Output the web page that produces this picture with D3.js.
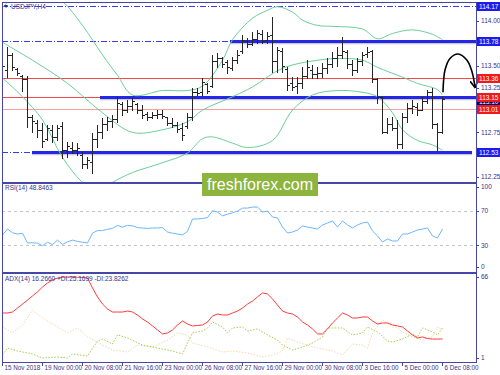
<!DOCTYPE html>
<html>
<head>
<meta charset="utf-8">
<script src="https://cdn.jsdelivr.net/npm/d3@7"></script>
<style>
body { margin: 0; background: #fff; }
text { font-family: "Liberation Sans", Arial, sans-serif; }
</style>
</head>
<body>
<div id="chart"></div>
<script>
//DATA--------------------
// USDJPY H4 bars, 15 Nov 16:00 -> 6 Dec 08:00
var openP = [113.40,113.45,113.62,113.46,113.38,113.35,112.92,112.86,112.78,112.68,
  112.78,112.70,112.82,112.55,112.58,112.55,112.50,112.40,112.42,112.68,
  112.75,112.85,112.88,112.90,113.07,113.00,113.05,113.07,113.00,112.96,
  112.92,112.94,112.96,112.92,112.86,112.83,112.80,112.82,112.92,113.20,
  113.20,113.29,113.27,113.55,113.58,113.54,113.47,113.56,113.66,113.78,
  113.74,113.80,113.85,113.79,113.84,113.55,113.66,113.46,113.30,113.27,
  113.30,113.38,113.45,113.40,113.42,113.47,113.52,113.58,113.62,113.65,
  113.52,113.45,113.55,113.63,113.66,113.35,113.15,112.75,112.85,112.80,
  112.62,112.92,113.02,113.03,113.00,113.10,113.20,112.84,112.75];
var highP = [113.54,113.71,113.64,113.47,113.39,113.38,112.95,112.89,112.86,112.83,
  112.83,112.83,112.87,112.64,112.64,112.63,112.53,112.47,112.74,112.83,
  112.91,112.92,112.95,113.15,113.09,113.11,113.14,113.08,113.06,112.98,
  112.98,113.00,113.00,112.92,112.91,112.87,112.86,112.97,113.25,113.25,
  113.36,113.30,113.62,113.64,113.60,113.56,113.60,113.67,113.84,113.81,
  113.88,113.90,113.90,113.88,114.04,113.71,113.70,113.48,113.37,113.37,
  113.48,113.56,113.51,113.48,113.53,113.58,113.65,113.71,113.82,113.67,
  113.56,113.58,113.65,113.71,113.67,113.36,113.15,112.91,112.92,112.89,
  112.97,113.08,113.11,113.08,113.15,113.23,113.25,112.86,113.15];
var lowP = [113.34,113.37,113.45,113.39,113.22,112.81,112.75,112.70,112.59,112.66,
  112.64,112.66,112.46,112.47,112.52,112.50,112.35,112.35,112.29,112.59,
  112.69,112.78,112.81,112.87,112.95,112.98,113.00,112.97,112.91,112.89,
  112.91,112.91,112.91,112.83,112.81,112.75,112.66,112.80,112.89,113.17,
  113.17,113.19,113.26,113.48,113.48,113.42,113.45,113.53,113.64,113.71,
  113.73,113.75,113.75,113.75,113.43,113.43,113.43,113.23,113.23,113.19,
  113.25,113.36,113.36,113.36,113.37,113.42,113.48,113.50,113.58,113.47,
  113.39,113.43,113.51,113.60,113.32,113.08,112.74,112.74,112.78,112.58,
  112.58,112.87,112.97,112.95,113.00,113.08,112.80,112.55,112.74];
var closeP = [113.50,113.62,113.48,113.42,113.35,112.92,112.88,112.78,112.65,112.80,
  112.70,112.80,112.55,112.60,112.55,112.58,112.40,112.44,112.68,112.75,
  112.85,112.88,112.90,113.08,113.00,113.05,113.10,113.00,112.95,112.92,
  112.95,112.96,112.93,112.86,112.83,112.79,112.72,112.92,113.20,113.19,
  113.32,113.22,113.55,113.58,113.52,113.48,113.56,113.62,113.79,113.74,
  113.80,113.86,113.78,113.83,113.55,113.67,113.50,113.28,113.26,113.30,
  113.38,113.48,113.40,113.42,113.47,113.52,113.58,113.62,113.66,113.52,
  113.45,113.55,113.62,113.65,113.35,113.15,112.75,112.85,112.80,112.62,
  112.92,113.02,113.05,113.00,113.10,113.20,112.85,112.75,113.13];

// Bollinger bands as [bar, price]
var bbUpper = [[0,114.15],[2,114.26],[6,114.37],[9,114.32],[12,114.22],[16,113.95],[20,113.62],
  [23,113.39],[26,113.17],[32,113.22],[37,113.22],[40,113.27],[44,113.56],[46,113.79],[50,114.03],
  [53,114.12],[55,114.16],[58,114.10],[60,114.01],[63,113.95],[66,113.94],[72,113.91],[75,113.80],
  [78,113.86],[82,113.90],[86,113.85],[88,113.79]];
var bbMiddle = [[0,113.76],[6,113.56],[13,113.30],[20,112.97],[26,112.75],[32,112.78],[37,112.87],
  [40,113.00],[46,113.15],[50,113.26],[56,113.47],[63,113.56],[68,113.58],[72,113.56],[75,113.48],
  [80,113.37],[83,113.30],[87,113.23],[88,113.17]];
var bbLower = [[0,113.36],[4,113.15],[8,112.89],[12,112.47],[16,112.19],[19,112.08],[22,112.19],
  [26,112.30],[32,112.41],[37,112.52],[40,112.68],[42,112.70],[46,112.63],[49,112.58],[54,112.66],
  [58,113.00],[62,113.17],[67,113.22],[72,113.20],[75,113.15],[78,112.97],[80,112.78],[83,112.66],
  [86,112.61],[88,112.55]];

var rsiVals = [42,48.8,44.5,43,44,32.7,33,32.5,29.5,33.5,
  31,36,31,34,36,34.5,33.5,32.7,44.2,47,
  47,48.5,49.5,53,51,53,52.5,50.5,50,49.5,
  50,50,50.5,45.4,44,43,42,46,60.4,60.4,
  61,62,70,68.5,64,66,67.5,69.6,73,73,
  74.2,74.2,68.5,69.6,62.7,61.5,51.1,44.2,45.4,47.7,
  52.3,51.1,50,48.8,53.5,55.8,58.1,51.1,58.1,53.5,
  50,53.5,55.8,56.9,46.5,40.8,33.8,37.3,35,35,
  43.1,43.1,45.4,47.7,48.8,50,40.8,38.5,48.85];

var adxVals = [37.1,37.1,37.9,41.1,44.3,47.5,50.8,54.0,58.0,61.2,
  63.6,65.2,65.8,66,66,65.8,65.6,65.2,57.2,50.0,
  44.3,40.3,37.9,37.9,37.9,38.7,37.9,35.5,32.3,29.9,
  26.7,23.5,20.3,21.1,23.5,27.5,30.7,28.3,26.7,27.1,
  27.5,29.9,34.7,36.3,35.5,35.5,37.1,38.7,41.1,44.3,
  46.7,50.0,53.2,52.4,48.4,43.5,38.7,37.1,36.3,33.9,
  29.9,27.5,24.3,20.3,20.3,24.3,29.1,33.1,37.1,35.5,
  33.1,33.1,33.9,33.9,30.7,28.3,29.1,29.1,27.5,26.7,
  25.9,22.7,19.5,17.1,17.9,16.6,16.2,16.2,16.27];

var plusDI = [[0,3.4],[1,9.0],[3,6.6],[6,4.2],[8,1.0],[11,1.8],[13,1.0],[14,4.2],[17,2.6],[19,14.6],
  [20,16.2],[22,12.2],[23,19.5],[25,17.1],[28,11.4],[30,9.8],[32,8.2],[34,6.6],[36,4.2],[37,13.0],
  [38,21.1],[40,22.7],[41,25.1],[42,29.9],[44,25.9],[45,21.1],[46,25.1],[48,25.9],[49,22.7],[51,24.3],
  [53,19.5],[55,15.4],[56,11.4],[58,7.4],[60,9.8],[62,13.0],[64,17.9],[65,25.1],[68,25.1],[70,19.5],
  [72,21.1],[73,25.9],[75,21.9],[77,14.6],[78,13.8],[80,16.2],[82,20.3],[83,17.9],[84,25.1],[86,21.9],
  [87,19.5],[88,25.17]];
var minusDI = [[0,25.9],[2,21.1],[4,27.5],[6,39.5],[8,33.1],[12,23.5],[13,21.1],[15,25.1],[17,17.9],
  [20,11.4],[22,7.4],[25,5.8],[27,11.4],[30,9.8],[33,15.4],[35,21.1],[37,19.5],[38,13.0],[41,9.8],
  [44,5.8],[46,6.6],[49,5.0],[52,1.8],[54,3.4],[56,6.6],[57,17.1],[59,13.8],[61,11.4],[63,9.0],
  [66,6.6],[68,3.4],[70,12.2],[72,11.4],[73,9.0],[74,21.1],[76,31.5],[78,25.9],[79,25.1],[80,21.9],
  [82,17.9],[84,15.4],[85,17.1],[86,17.9],[87,25.9],[88,23.83]];

var dateIdx = [0,8,16,24,32,40,48,56,64,72,80,88];
var dateLabels = ["15 Nov 2018","19 Nov 00:00","20 Nov 08:00","21 Nov 16:00","23 Nov 00:00",
  "26 Nov 08:00","27 Nov 16:00","29 Nov 00:00","30 Nov 08:00","3 Dec 16:00","5 Dec 00:00","6 Dec 08:00"];

// 113.00 sits under the 113.01 tag, so only its tick mark shows
var priceTicks = [114.00,113.75,113.50,113.25,113.00,112.75,112.50,112.25];
var priceTickShown = [true,true,true,true,false,true,true,true];
var rsiTicks = [100,70,30,0];
var rsiLevels = [70,30];
var adxTicks = [66,1];

// support / resistance levels and their tags
var levelPrices = [114.17,113.78,113.36,113.15,113.01,112.53];
var levelKinds = ["dash","dash","red","red","pink","dash"];
var levelThickFrom = [null,45.5,null,19.5,null,5.9];
var tagPrices = [114.17,113.78,113.36,113.10,113.15,113.01,112.53];
var tagColors = ["#1c1cf0","#1c1cf0","#f01818","#000070","#f01818","#f01818","#1c1cf0"];

// hand drawn arrow after last bar, [bar, price]
var arrowPts = [[88.1,113.20],[88.5,113.45],[89.5,113.58],[91.1,113.63],[92.9,113.56],[93.9,113.43],[94.5,113.26]];

//SET BOUNDARIES--------------------
var svgWidth = 500;
var svgHeight = 375;
var left = 2, right = 476;
var mainTop = 2, mainBottom = 182;
var rsiTop = 183, rsiBottom = 272;
var adxTop = 273, adxBottom = 362;
var navy = "#4646a6";
var textCol = "#34348c";

var svg = d3.select("#chart")
  .append("svg")
  .attr("width", svgWidth)
  .attr("height", svgHeight)
  .style("display", "block");

svg.append("rect").attr("width", svgWidth).attr("height", svgHeight).attr("fill", "#fff");

var x = d3.scaleLinear().domain([0, 88]).range([2.5, 442.5]);
var yMain = d3.scaleLinear().domain([112.194, 114.213]).range([mainBottom, mainTop]);
var yRsi = d3.scaleLinear().domain([0, 100]).range([271.3, 184.7]);
var yAdx = d3.scaleLinear().domain([1, 66]).range([358, 277]);

function px(v) { return Math.round(v) + 0.5; }

// clip paths
var defs = svg.append("defs");
[["clipMain", mainTop, mainBottom], ["clipRsi", rsiTop, rsiBottom], ["clipAdx", adxTop, adxBottom]].forEach(c => {
  defs.append("clipPath").attr("id", c[0])
    .append("rect").attr("x", left + 1).attr("y", c[1] + 1)
    .attr("width", right - left - 1).attr("height", c[2] - c[1] - 1);
});
defs.append("marker")
  .attr("id", "arrowHead")
  .attr("viewBox", "0 0 10 10")
  .attr("refX", 8).attr("refY", 5)
  .attr("markerWidth", 5).attr("markerHeight", 5)
  .attr("orient", "auto")
  .append("path")
  .attr("d", "M0,0 L9,5 L0,10")
  .attr("fill", "none")
  .attr("stroke", "#000")
  .attr("stroke-width", 2);

//MAIN PANEL--------------------
var mainG = svg.append("g").attr("clip-path", "url(#clipMain)");

// level lines
levelPrices.forEach((p, i) => {
  var yy = px(yMain(p));
  var kind = levelKinds[i];
  var thick = levelThickFrom[i];
  if (kind === "dash") {
    mainG.append("line")
      .attr("x1", left).attr("x2", thick === null ? right : x(thick))
      .attr("y1", yy).attr("y2", yy)
      .attr("stroke", "#3a3af0").attr("stroke-width", 1)
      .attr("stroke-dasharray", "6,2,1,2");
  } else {
    mainG.append("line")
      .attr("x1", left).attr("x2", thick === null ? right : x(thick))
      .attr("y1", yy).attr("y2", yy)
      .attr("stroke", kind === "red" ? "#f04848" : "#f7a0a0")
      .attr("stroke-width", 1);
  }
  if (thick !== null) {
    mainG.append("line")
      .attr("x1", x(thick)).attr("x2", i === 5 ? 472 : right)
      .attr("y1", yy + 2).attr("y2", yy + 2)
      .attr("stroke", "#c8c8d8").attr("stroke-width", 1.5);
    mainG.append("line")
      .attr("x1", x(thick)).attr("x2", i === 5 ? 472 : right)
      .attr("y1", yy).attr("y2", yy)
      .attr("stroke", "#2626e6").attr("stroke-width", 3);
  }
});

// bollinger bands
var bbLine = d3.line()
  .x(d => x(d[0]))
  .y(d => yMain(d[1]))
  .curve(d3.curveCatmullRom);
[bbUpper, bbMiddle, bbLower].forEach(band => {
  mainG.append("path")
    .attr("d", bbLine(band))
    .attr("fill", "none")
    .attr("stroke", "#6ccf98")
    .attr("stroke-width", 1);
});

// HLC bars
var bars = mainG.selectAll("g.bar")
  .data(d3.range(openP.length))
  .enter()
  .append("g")
  .attr("class", "bar")
  .attr("stroke", "#262626")
  .attr("stroke-width", 1);
bars.append("line")
  .attr("x1", i => x(i)).attr("x2", i => x(i))
  .attr("y1", i => Math.round(yMain(highP[i]))).attr("y2", i => Math.round(yMain(lowP[i])) + 1);
bars.append("line")
  .attr("x1", i => x(i) - 2.5).attr("x2", i => x(i))
  .attr("y1", i => px(yMain(openP[i]))).attr("y2", i => px(yMain(openP[i])));
bars.append("line")
  .attr("x1", i => x(i)).attr("x2", i => x(i) + 2.5)
  .attr("y1", i => px(yMain(closeP[i]))).attr("y2", i => px(yMain(closeP[i])));

// arrow
svg.append("path")
  .attr("d", d3.line().x(d => x(d[0])).y(d => yMain(d[1])).curve(d3.curveCatmullRom)(arrowPts))
  .attr("fill", "none")
  .attr("stroke", "#000")
  .attr("stroke-width", 1.6)
  .attr("marker-end", "url(#arrowHead)");

// title
svg.append("path")
  .attr("d", "M4,5 L8,5 L6,8 Z")
  .attr("fill", "#2a2a90");
svg.append("text")
  .attr("x", 11).attr("y", 9)
  .attr("font-size", 6.5)
  .attr("fill", textCol)
  .text("USDJPY,H4");

//RSI PANEL--------------------
var rsiG = svg.append("g").attr("clip-path", "url(#clipRsi)");
rsiLevels.forEach(l => {
  rsiG.append("line")
    .attr("x1", left).attr("x2", right)
    .attr("y1", px(yRsi(l))).attr("y2", px(yRsi(l)))
    .attr("stroke", "#c4c4c4")
    .attr("stroke-dasharray", "3,3");
});
rsiG.append("path")
  .attr("d", d3.line().x((d, i) => x(i)).y(d => yRsi(d))(rsiVals))
  .attr("fill", "none")
  .attr("stroke", "#6cb6ff")
  .attr("stroke-width", 1);
svg.append("text")
  .attr("x", 5).attr("y", 190)
  .attr("font-size", 6.5)
  .attr("fill", textCol)
  .text("RSI(14) 48.8463");

//ADX PANEL--------------------
var adxG = svg.append("g").attr("clip-path", "url(#clipAdx)");
adxG.append("path")
  .attr("d", d3.line().x(d => x(d[0])).y(d => yAdx(d[1]))(minusDI))
  .attr("fill", "none")
  .attr("stroke", "#f8d6b4")
  .attr("stroke-dasharray", "1.5,1.5");
adxG.append("path")
  .attr("d", d3.line().x(d => x(d[0])).y(d => yAdx(d[1]))(plusDI))
  .attr("fill", "none")
  .attr("stroke", "#a6cf4a")
  .attr("stroke-dasharray", "1.5,1.5");
adxG.append("path")
  .attr("d", d3.line().x((d, i) => x(i)).y(d => yAdx(d))(adxVals))
  .attr("fill", "none")
  .attr("stroke", "#ff3a3a")
  .attr("stroke-width", 1);
svg.append("text")
  .attr("x", 5).attr("y", 281)
  .attr("font-size", 6.5)
  .attr("fill", textCol)
  .text("ADX(14) 16.2660 +DI:25.1699 -DI:23.8262");

//FRAMES--------------------
[[mainTop, mainBottom], [rsiTop, rsiBottom], [adxTop, adxBottom]].forEach(p => {
  svg.append("rect")
    .attr("x", left + 0.5).attr("y", p[0] + 0.5)
    .attr("width", right - left).attr("height", p[1] - p[0])
    .attr("fill", "none")
    .attr("stroke", navy)
    .attr("stroke-width", 1);
});

//RIGHT AXES--------------------
function rightAxis(ticks, scale, fmt, shown) {
  ticks.forEach((t, i) => {
    var yy = scale(t);
    svg.append("line")
      .attr("x1", right).attr("x2", right + 3)
      .attr("y1", px(yy)).attr("y2", px(yy))
      .attr("stroke", navy);
    if (shown && !shown[i]) return;
    svg.append("text")
      .attr("x", right + 5).attr("y", yy + 2.3)
      .attr("font-size", 6.5)
      .attr("fill", textCol)
      .text(fmt(t));
  });
}
rightAxis(priceTicks, yMain, d3.format(".2f"), priceTickShown);
rightAxis(rsiTicks, d => Math.max(187, Math.min(267, yRsi(d))), d => d);
rightAxis(adxTicks, yAdx, d => d);

// level tags
tagPrices.forEach((p, i) => {
  var yy = Math.round(yMain(p));
  svg.append("rect")
    .attr("x", right + 1).attr("y", yy - 4)
    .attr("width", 23).attr("height", 9)
    .attr("fill", tagColors[i]);
  svg.append("text")
    .attr("x", right + 3).attr("y", yy + 2.8)
    .attr("font-size", 6.5)
    .attr("fill", "#fff")
    .text(d3.format(".2f")(p));
});

//DATE AXIS--------------------
dateIdx.forEach((d, i) => {
  var xx = x(d);
  svg.append("line")
    .attr("x1", xx).attr("x2", xx)
    .attr("y1", adxBottom).attr("y2", adxBottom + 4)
    .attr("stroke", navy);
  svg.append("text")
    .attr("x", xx + 2).attr("y", 370)
    .attr("font-size", 6.3)
    .attr("fill", textCol)
    .text(dateLabels[i]);
});

//WATERMARK--------------------
svg.append("rect")
  .attr("x", 202).attr("y", 173)
  .attr("width", 116).attr("height", 23)
  .attr("fill", "#8db43c");
svg.append("text")
  .attr("x", 207).attr("y", 190)
  .attr("font-family", "'Open Sans', sans-serif")
  .attr("font-size", 17)
  .attr("textLength", 106)
  .attr("lengthAdjust", "spacingAndGlyphs")
  .attr("fill", "#fff")
  .text("freshforex.com");
</script>
</body>
</html>
